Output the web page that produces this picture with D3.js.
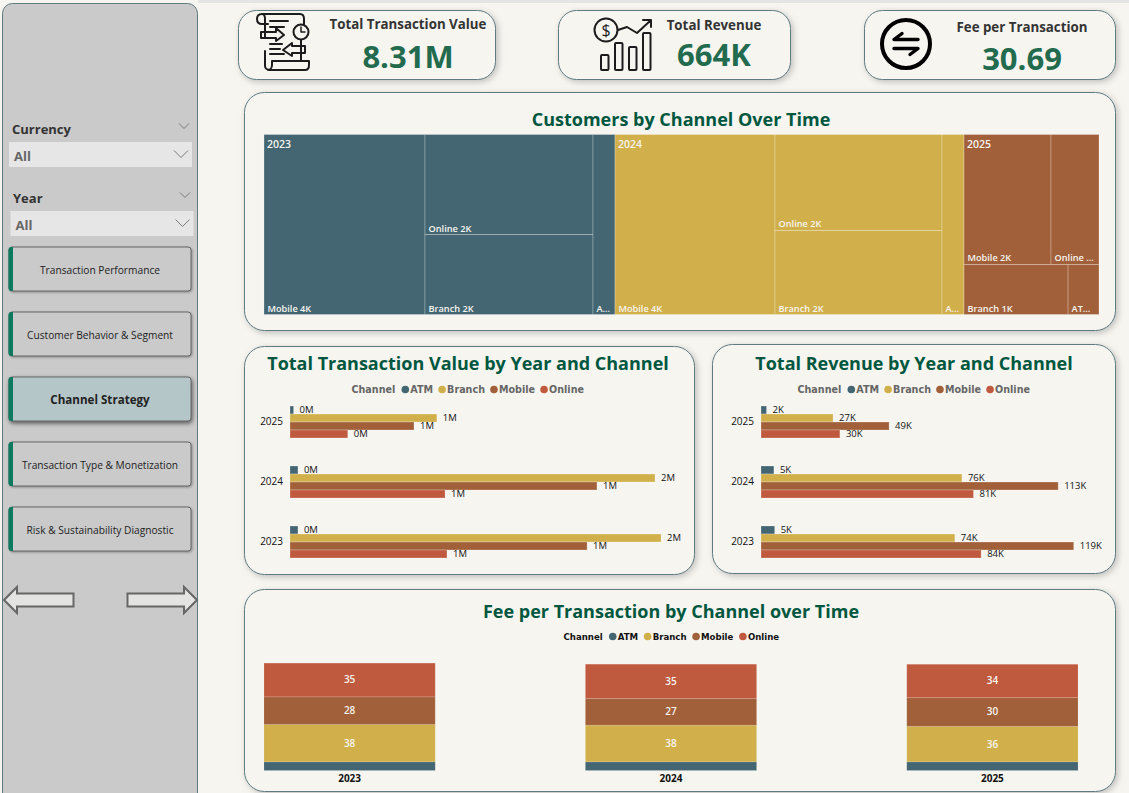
<!DOCTYPE html>
<html>
<head>
<meta charset="utf-8">
<script src="https://d3js.org/d3.v7.min.js"></script>
<style>
  html, body { margin: 0; padding: 0; background: #f6f5f0; overflow: hidden; }
  svg { display: block; }
  text { font-family: "Open Sans", sans-serif; }
  .panel { fill: #f6f5f0; stroke: #5f7a80; stroke-width: 1; filter: drop-shadow(2px 2px 3px rgba(0,0,0,0.22)); }
  .title { font-weight: 700; font-size: 18px; fill: #00573f; text-anchor: middle; }
  .kpi-label { font-weight: 700; font-size: 13.3px; fill: #333; text-anchor: middle; }
  .kpi-value { font-weight: 700; font-size: 31px; fill: #236b4e; text-anchor: middle; }
  .icon { fill: none; stroke: #1c1c1c; stroke-width: 2; stroke-linecap: round; stroke-linejoin: round; }
  .chev { fill: none; stroke: #7a7a7a; stroke-width: 1; }
  .tick-year { font-size: 10px; fill: #111; }
  .bar-label { font-size: 9.5px; fill: #111; }
</style>
</head>
<body>
<div id="my_dataviz"></div>
<script>
// values
var channels = ["ATM", "Branch", "Mobile", "Online"];
var years = ["2023", "2024", "2025"];
var yearsDesc = ["2025", "2024", "2023"];
var channelColours = ["#436672", "#d1b04b", "#a16039", "#c05a3e"];

// customers, order follows channels
var customers2023 = [535, 1816, 3916, 2270];
var customers2024 = [535, 1896, 3892, 2166];
var customers2025 = [209, 703, 1528, 843];
var yearColours = ["#436672", "#d1b04b", "#a16039"];

// how the treemap groups the tiles inside each year
var groups2023 = [["Mobile"], ["Online", "Branch"], ["ATM"]];
var groups2024 = [["Mobile"], ["Online", "Branch"], ["ATM"]];
var groups2025 = [["Mobile", "Online"], ["Branch", "ATM"]];

// total transaction value in millions
var value2023 = [0.033, 1.541, 1.234, 0.652];
var value2024 = [0.033, 1.516, 1.275, 0.644];
var value2025 = [0.015, 0.61, 0.515, 0.24];

// total revenue in thousands
var revenue2023 = [5.2, 73.7, 118.9, 83.7];
var revenue2024 = [4.9, 76.4, 113, 80.8];
var revenue2025 = [2.1, 27.4, 48.7, 30];

// fee per transaction
var fee2023 = [8.9, 38.3, 28.4, 34.6];
var fee2024 = [8.9, 37.6, 27.4, 35.2];
var fee2025 = [8.9, 36.4, 29.5, 34.2];

var navItems = ["Transaction Performance", "Customer Behavior & Segment", "Channel Strategy",
                "Transaction Type & Monetization", "Risk & Sustainability Diagnostic"];
var activeNav = "Channel Strategy";

var kpiLabels = ["Total Transaction Value", "Total Revenue", "Fee per Transaction"];
var kpiValues = ["8.31M", "664K", "30.69"];

var svg = d3.select("#my_dataviz").append("svg")
    .attr("width", 1129)
    .attr("height", 793);

svg.append("rect").attr("x", 198).attr("y", 0).attr("width", 931).attr("height", 3).attr("fill", "#e4e4e4");

function panel(x, y, w, h, r) {
  svg.append("rect").attr("class", "panel")
    .attr("x", x).attr("y", y).attr("width", w).attr("height", h).attr("rx", r).attr("ry", r);
}

// ---------- sidebar ----------
svg.append("rect")
  .attr("x", 2.5).attr("y", 3.5).attr("width", 195).attr("height", 800).attr("rx", 10)
  .attr("fill", "#cacaca").attr("stroke", "#5f7a80");

function chevron(cx, cy, w, h) {
  svg.append("path").attr("class", "chev")
    .attr("d", "M" + (cx - w / 2) + "," + (cy - h / 2) + "L" + cx + "," + (cy + h / 2) + "L" + (cx + w / 2) + "," + (cy - h / 2));
}

function slicer(name, labelX, labelY, boxX, boxY, topChevX) {
  svg.append("text").attr("x", labelX).attr("y", labelY)
    .style("font-size", "13px").style("font-weight", 700).attr("fill", "#333").text(name);
  chevron(topChevX, labelY - 8, 10, 5);
  svg.append("rect").attr("x", boxX).attr("y", boxY).attr("width", 183).attr("height", 25).attr("fill", "#e6e6e6");
  svg.append("text").attr("x", boxX + 5).attr("y", boxY + 19)
    .style("font-size", "13px").style("font-weight", 700).attr("fill", "#666").text("All");
  chevron(boxX + 172, boxY + 12, 14, 7);
}
slicer("Currency", 12, 134, 9, 142, 184);
slicer("Year", 13, 203, 10.5, 211, 185);

var navY = d3.scalePoint().domain(navItems).range([247, 507]);
navItems.forEach(function(item) {
  var active = item == activeNav;
  var y = navY(item);
  svg.append("rect")
    .attr("x", 9).attr("y", y).attr("width", 182).attr("height", 44).attr("rx", 3)
    .attr("fill", active ? "#b5c6c9" : "#cacaca")
    .attr("stroke", "#666")
    .style("filter", active ? "drop-shadow(1px 2px 2px rgba(0,0,0,0.55))" : "drop-shadow(1px 1px 1px rgba(0,0,0,0.3))");
  svg.append("path")
    .attr("d", "M13," + y + "H11.5a3,3 0 0 0 -3,3V" + (y + 41) + "a3,3 0 0 0 3,3H13Z")
    .attr("fill", "#0b7a5f");
  svg.append("text")
    .attr("x", 100).attr("y", y + 23).attr("dy", ".35em").attr("text-anchor", "middle")
    .attr("fill", "#222")
    .style("font-size", active ? "11.6px" : "10.2px")
    .style("font-weight", active ? 700 : 400)
    .text(item);
});

// back and next arrows
svg.append("path")
  .attr("d", "M4,600L17,587V593.5H73.5V606.5H17V613Z")
  .attr("fill", "#e4e4e2").attr("stroke", "#666").attr("stroke-width", 2);
svg.append("path")
  .attr("d", "M197,600L184,587V593.5H127.5V606.5H184V613Z")
  .attr("fill", "#e4e4e2").attr("stroke", "#666").attr("stroke-width", 2);

// ---------- KPI cards ----------
panel(238.5, 10.5, 257, 69, 18);
panel(558.5, 10.5, 232, 69, 18);
panel(864.5, 10.5, 251, 69, 18);

var kpiLabelX = [408, 714, 1022];
var kpiLabelY = [29, 30, 32];
var kpiValueY = [68, 66, 70];
kpiLabels.forEach(function(label, i) {
  svg.append("text").attr("class", "kpi-label").attr("x", kpiLabelX[i]).attr("y", kpiLabelY[i]).text(label);
  svg.append("text").attr("class", "kpi-value").attr("x", kpiLabelX[i]).attr("y", kpiValueY[i]).text(kpiValues[i]);
});

// scroll icon
var scrollIcon = svg.append("g");
[
  "M262,24H268M262,24C258,24 257,21 257,19C257,16 259,14 262,14H300C303,14 304,16 304,19V24",
  "M262,14C265,14 265,17 265,19V38M265,51V66C265,68 267,70 270,70H305C308,70 309,68 309,65V61H272V65C272,68 270,70 268,70",
  "M301,40V61",
  "M270,21H288M270,27H284M270,44H282M270,49H280M270,54H284",
  "M261,32H276V28L284,35L276,41V38H261Z",
  "M305,46H292V43L283,50L292,56V53H305Z"
].forEach(function(d) { scrollIcon.append("path").attr("class", "icon").attr("d", d); });
scrollIcon.append("circle").attr("class", "icon").attr("cx", 301).attr("cy", 32).attr("r", 7.5);
scrollIcon.append("path").attr("class", "icon").style("stroke-width", 1.5).attr("d", "M301,27V32H305");

// revenue icon
var revenueIcon = svg.append("g");
revenueIcon.append("circle").attr("class", "icon").attr("cx", 606).attr("cy", 30).attr("r", 11.5);
revenueIcon.append("text").attr("x", 606).attr("y", 36).attr("text-anchor", "middle")
  .style("font-size", "16px").attr("fill", "#1c1c1c").text("$");
revenueIcon.append("path").attr("class", "icon").attr("d", "M618,30L627,27L637,33L650,21M643,20H651V27");
[[601, 55], [615, 43], [629, 47], [643, 33]].forEach(function(b) {
  revenueIcon.append("rect").attr("class", "icon").attr("x", b[0]).attr("y", b[1])
    .attr("width", 7.5).attr("height", 70 - b[1]).attr("rx", 1);
});

// fee icon
var feeIcon = svg.append("g");
feeIcon.append("circle").attr("class", "icon").attr("cx", 906).attr("cy", 44).attr("r", 24)
  .style("stroke", "#000").style("stroke-width", 4);
feeIcon.append("path").attr("class", "icon").style("stroke", "#000").style("stroke-width", 3.4)
  .attr("d", "M918,39.5H894L902,33.5M894,48.5H918L910,54.5");

// ---------- treemap ----------
panel(244.5, 92.5, 871, 238, 20);
svg.append("text").attr("class", "title").attr("x", 681).attr("y", 126).text("Customers by Channel Over Time");

var customersByYear = [customers2023, customers2024, customers2025];
var groupsByYear = [groups2023, groups2024, groups2025];

var treeData = {
  name: "root",
  children: years.map(function(year, yi) {
    return {
      name: year,
      colour: yearColours[yi],
      children: groupsByYear[yi].map(function(group, gi) {
        return {
          name: year + "-" + gi,
          children: group.map(function(channel) {
            return { name: channel, value: customersByYear[yi][channels.indexOf(channel)] };
          })
        };
      })
    };
  })
};

function yearTile(node, x0, y0, x1, y1) {
  var across;
  if (node.depth == 0) across = true;
  else if (node.depth == 1) across = node.data.name != "2025";
  else across = node.parent.data.name == "2025";
  (across ? d3.treemapDice : d3.treemapSlice)(node, x0, y0, x1, y1);
}

var root = d3.hierarchy(treeData).sum(function(d) { return d.value; });
d3.treemap().tile(yearTile).size([835, 180])(root);

var tree = svg.append("g").attr("transform", "translate(264,134.5)");

var leaves = tree.selectAll("g.leaf")
  .data(root.leaves())
  .enter()
  .append("g")
    .attr("class", "leaf");

leaves.append("rect")
  .attr("x", function(d) { return d.x0; })
  .attr("y", function(d) { return d.y0; })
  .attr("width", function(d) { return d.x1 - d.x0; })
  .attr("height", function(d) { return d.y1 - d.y0; })
  .attr("fill", function(d) { return d.parent.parent.data.colour; })
  .attr("stroke", "rgba(255,255,255,0.25)");

leaves.append("text")
  .attr("x", function(d) { return d.x0 + 3.5; })
  .attr("y", function(d) { return d.y1 - 3; })
  .attr("fill", "#f6f5f0")
  .style("font-size", "9.2px")
  .style("font-weight", 600)
  .text(function(d) { return d.data.name + " " + Math.round(d.value / 1000) + "K"; })
  .each(function(d) {
    // shorten labels the tile can't hold
    var room = d.x1 - d.x0 - 7;
    var el = d3.select(this);
    var full = el.text();
    var n = full.length;
    while (this.getComputedTextLength() > room && n > 1) {
      n--;
      el.text(full.substring(0, n) + "...");
    }
  });

tree.selectAll("text.yearlabel")
  .data(root.children)
  .enter()
  .append("text")
    .attr("class", "yearlabel")
    .attr("x", function(d) { return d.x0 + 3; })
    .attr("y", function(d) { return d.y0 + 13.5; })
    .attr("fill", "#f6f5f0")
    .style("font-size", "10.5px")
    .style("font-weight", 600)
    .text(function(d) { return d.data.name; });

// ---------- legends ----------
function legend(x, y, colour, size, gap) {
  var g = svg.append("g").attr("transform", "translate(" + x + "," + y + ")");
  var lead = g.append("text").attr("y", 0).attr("dy", ".35em")
    .style("font-family", "DejaVu Sans").style("font-size", size + "px").style("font-weight", 700)
    .attr("fill", colour).text("Channel");
  var pos = lead.node().getComputedTextLength() + 9;
  channels.forEach(function(name, i) {
    g.append("circle").attr("cx", pos + 1).attr("cy", 0).attr("r", 3.8).attr("fill", channelColours[i]);
    var t = g.append("text").attr("x", pos + 6).attr("dy", ".35em")
      .style("font-family", "DejaVu Sans").style("font-size", size + "px").style("font-weight", 700)
      .attr("fill", colour).text(name);
    pos += 6 + t.node().getComputedTextLength() + gap;
  });
}

// ---------- grouped bars ----------
function groupedBars(series, x0, maxValue, maxWidth, suffix, legendX) {
  var xScale = d3.scaleLinear().domain([0, maxValue]).range([x0, x0 + maxWidth]);
  var yScale = d3.scaleBand().domain(yearsDesc).range([392, 572]).paddingInner(28 / 60).paddingOuter(14 / 60);
  var rowScale = d3.scaleBand().domain(channels).range([0, yScale.bandwidth()]);
  var format = d3.format(".0f");

  legend(legendX, 389.5, "#666", 9.6, 8);

  var yAxis = svg.append("g")
    .attr("transform", "translate(" + (x0 - 1) + ",0)")
    .call(d3.axisLeft(yScale).tickSize(0).tickPadding(6));
  yAxis.select(".domain").remove();
  yAxis.selectAll("text").attr("class", "tick-year").style("font-family", "Open Sans");

  yearsDesc.forEach(function(year) {
    var values = series[years.indexOf(year)];
    var row = svg.append("g").attr("transform", "translate(0," + yScale(year) + ")");
    row.selectAll("rect")
      .data(values)
      .enter()
      .append("rect")
        .attr("x", x0)
        .attr("y", function(d, i) { return rowScale(channels[i]); })
        .attr("width", function(d) { return xScale(d) - x0; })
        .attr("height", rowScale.bandwidth())
        .attr("fill", function(d, i) { return channelColours[i]; })
        .attr("stroke", "rgba(255,255,255,0.25)");
    row.selectAll("text")
      .data(values)
      .enter()
      .append("text")
        .attr("class", "bar-label")
        .attr("x", function(d) { return xScale(d) + 6; })
        .attr("y", function(d, i) { return rowScale(channels[i]) + rowScale.bandwidth() / 2; })
        .attr("dy", ".35em")
        .text(function(d) { return format(d) + suffix; });
  });
}

panel(244.5, 346.5, 450, 228, 20);
svg.append("text").attr("class", "title").attr("x", 468).attr("y", 370).text("Total Transaction Value by Year and Channel");
groupedBars([value2023, value2024, value2025], 290, 1.6, 385.2, "M", 351.5);

panel(712.5, 344.5, 403, 229, 20);
svg.append("text").attr("class", "title").attr("x", 914).attr("y", 370).text("Total Revenue by Year and Channel");
groupedBars([revenue2023, revenue2024, revenue2025], 761, 120, 315.6, "K", 797.5);

// ---------- stacked columns ----------
panel(244.5, 589.5, 871, 202, 20);
svg.append("text").attr("class", "title").attr("x", 671).attr("y", 618).text("Fee per Transaction by Channel over Time");
legend(563.5, 636.5, "#111", 8.6, 8.5);

var feeRows = years.map(function(year, i) {
  var series = [fee2023, fee2024, fee2025][i];
  var row = { year: year };
  channels.forEach(function(c, j) { row[c] = series[j]; });
  return row;
});
var stacked = d3.stack().keys(channels)(feeRows);

var xFee = d3.scaleBand().domain(years).range([264, 1078]).paddingInner(150 / 321).paddingOuter(0);
var yFee = d3.scaleLinear().domain([0, 110]).range([770.5, 663.3]);

var layers = svg.selectAll("g.layer")
  .data(stacked)
  .enter()
  .append("g")
    .attr("class", "layer")
    .attr("fill", function(d, i) { return channelColours[i]; });

layers.selectAll("rect")
  .data(function(d) { return d; })
  .enter()
  .append("rect")
    .attr("x", function(d) { return xFee(d.data.year); })
    .attr("y", function(d) { return yFee(d[1]); })
    .attr("width", xFee.bandwidth())
    .attr("height", function(d) { return yFee(d[0]) - yFee(d[1]); })
    .attr("stroke", "rgba(255,255,255,0.12)");

// ATM segment is too thin to carry a label
layers.filter(function(d) { return d.key != "ATM"; })
  .selectAll("text")
  .data(function(d) { return d; })
  .enter()
  .append("text")
    .attr("x", function(d) { return xFee(d.data.year) + xFee.bandwidth() / 2; })
    .attr("y", function(d) { return (yFee(d[0]) + yFee(d[1])) / 2; })
    .attr("dy", ".35em")
    .attr("text-anchor", "middle")
    .attr("fill", "#f6f5f0")
    .style("font-size", "10px")
    .style("font-weight", 600)
    .text(function(d) { return Math.round(d[1] - d[0]); });

var feeAxis = svg.append("g")
  .attr("transform", "translate(0,771)")
  .call(d3.axisBottom(xFee).tickSize(0).tickPadding(4));
feeAxis.select(".domain").remove();
feeAxis.selectAll("text")
  .style("font-family", "Open Sans").style("font-size", "10px").style("font-weight", 700).attr("fill", "#111");
</script>
</body>
</html>
